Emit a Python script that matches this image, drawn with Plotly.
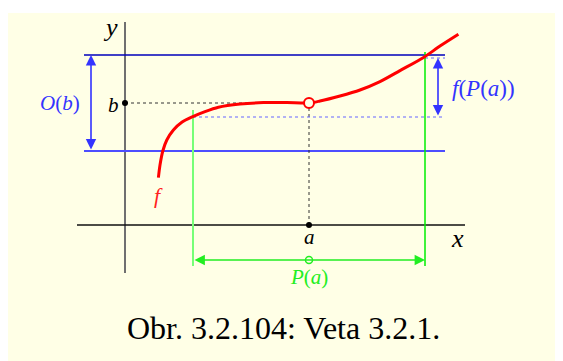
import plotly.graph_objects as go

# math coordinates of the sketch (1 unit ~ 20 px)
a = 9.2          # point a on the x axis
b = 6.1          # limit value b
eps = 2.4        # half width of the neighbourhood O(b)
delta = 5.8      # half width of the neighbourhood P(a)
f_left = 5.4     # f(a - delta)
f_right = 8.35   # f(a + delta)

# curve f
curve_x = [1.67, 1.75, 1.89, 2.09, 2.42, 2.84, 3.39, 4.0, 4.67, 5.75, 6.92, 8.09, 9.2,
           9.75, 10.75, 11.75, 12.75, 13.75, 14.95, 15.75, 16.67]
curve_y = [2.37, 3.0, 3.7, 4.25, 4.75, 5.14, 5.42, 5.67, 5.89, 6.05, 6.12, 6.12, 6.1,
           6.2, 6.45, 6.75, 7.17, 7.72, 8.39, 8.95, 9.54]

x_axis = [-2.4, 17.0]
y_axis = [-2.4, 10.15]
band_x = [-2.05, 16.0]
green_bottom = -2.05
green_arrow_y = -1.75
obj_arrow_x = -1.7
fpa_arrow_x = 15.65

BG = "#ffffe6"
SERIF = "Liberation Serif, Times New Roman, serif"
BLUE = "#3333ff"
GREEN = "#22ee22"

fig = go.Figure()


def line(xs, ys, color, width, dash="solid"):
    fig.add_trace(go.Scatter(x=xs, y=ys, mode="lines", hoverinfo="skip",
                             line=dict(color=color, width=width, dash=dash)))


# axes
line([0, 0], y_axis, "#707070", 2)
line(x_axis, [0, 0], "#111111", 1.5)

# neighbourhood O(b)
line(band_x, [b + eps, b + eps], "#0000bb", 1.5)
line(band_x, [b - eps, b - eps], "#4d4dff", 2)

# dotted guides
line([0, a], [b, b], "#333333", 1, "dot")
line([a, a], [0, b], "#333333", 1, "dot")
line([a - delta, band_x[1]], [f_left, f_left], "#6666ff", 1.2, "dot")
line([a + delta, band_x[1]], [f_right, f_right], "#6666ff", 1.2, "dot")

# neighbourhood P(a)
line([a - delta, a - delta], [green_bottom, f_left + 0.35], "#77ff77", 2)
line([a + delta, a + delta], [green_bottom, f_right + 0.3], "#00ee00", 1.5)

# function f
fig.add_trace(go.Scatter(x=curve_x, y=curve_y, mode="lines", hoverinfo="skip",
                         line=dict(color="#ff0000", width=3, shape="spline", smoothing=0.8)))

# points
fig.add_trace(go.Scatter(x=[0, a], y=[b, 0], mode="markers", hoverinfo="skip",
                         marker=dict(color="black", size=6)))
fig.add_trace(go.Scatter(x=[a], y=[b], mode="markers", hoverinfo="skip",
                         marker=dict(color=BG, size=10, line=dict(color="#ff0000", width=2))))

# double arrows
arrows = [
    (obj_arrow_x, b - eps, obj_arrow_x, b + eps, BLUE),
    (fpa_arrow_x, f_left, fpa_arrow_x, f_right, BLUE),
    (a - delta, green_arrow_y, a + delta, green_arrow_y, GREEN),
]
for x0, y0, x1, y1, col in arrows:
    fig.add_annotation(x=x1, y=y1, ax=x0, ay=y0, xref="x", yref="y", axref="x", ayref="y",
                       text="", showarrow=True, arrowside="end+start", arrowhead=2,
                       arrowsize=1.3, arrowwidth=1.6, arrowcolor=col, standoff=0, startstandoff=0)

fig.add_trace(go.Scatter(x=[a], y=[green_arrow_y], mode="markers", hoverinfo="skip",
                         marker=dict(color=BG, size=7, line=dict(color=GREEN, width=1.5))))

# labels
labels = [
    (-0.75, 9.9, "<i>y</i>", "black", 26),
    (16.6, -0.67, "<i>x</i>", "black", 26),
    (-0.6, 6.0, "<i>b</i>", "black", 21),
    (a, -0.6, "<i>a</i>", "black", 21),
    (-3.25, 6.1, "<i>O</i>(<i>b</i>)", BLUE, 21),
    (17.9, 6.85, "<i>f</i>(<i>P</i>(<i>a</i>))", BLUE, 23),
    (a, -2.6, "<i>P</i>(<i>a</i>)", GREEN, 21),
    (1.65, 1.5, "<i>f</i>", "#ff2222", 22),
]
for x, y, t, col, size in labels:
    fig.add_annotation(x=x, y=y, text=t, showarrow=False,
                       font=dict(family=SERIF, color=col, size=size))

fig.add_annotation(x=0.4955, y=0.037, xref="paper", yref="paper", text="Obr. 3.2.104: Veta 3.2.1.",
                   showarrow=False, font=dict(family=SERIF, color="black", size=32))

# page body adds an 8px offset, so the figure is 8px smaller each way
fig.update_layout(
    width=555, height=353, autosize=False,
    margin=dict(l=0, r=0, t=5, b=0),
    paper_bgcolor="white", plot_bgcolor=BG,
    showlegend=False,
    xaxis=dict(range=[-5.85, 21.9], visible=False, fixedrange=True),
    yaxis=dict(range=[-6.8, 10.6], visible=False, fixedrange=True),
)

fig.write_html("out.html")
